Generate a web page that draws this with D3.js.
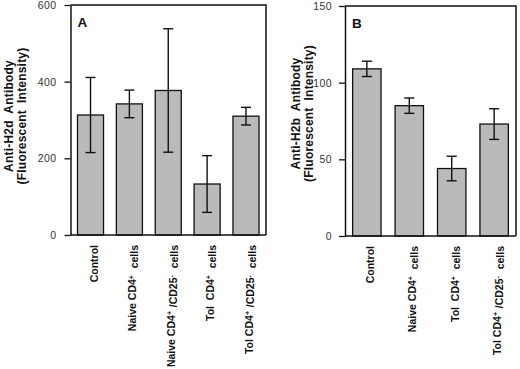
<!DOCTYPE html>
<html>
<head>
<meta charset="utf-8">
<script src="https://cdn.jsdelivr.net/npm/d3@7"></script>
<style>
  body { margin: 0; background: #fff; }
  svg { display: block; }
  text { font-family: 'Liberation Sans', Arial, Helvetica, sans-serif; }
</style>
</head>
<body>
<svg id="chart" width="520" height="369"></svg>
<script>
// panel A data (anti-H2d)
const catsA = ['Control', 'Naive CD4+  cells', 'Naive CD4+ /CD25-  cells', 'Tol  CD4+  cells', 'Tol CD4+ /CD25-  cells']
const meanA = [313, 342, 377, 133, 310]
const errA = [98, 36, 161, 74, 23]
const ticksA = [0, 200, 400, 600]

// panel B data (anti-H2b)
const catsB = ['Control', 'Naive CD4+  cells', 'Tol  CD4+  cells', 'Tol CD4+ /CD25-  cells']
const meanB = [109, 85, 44, 73]
const errB = [5, 5, 8, 10]
const ticksB = [0, 50, 100, 150]

const svg = d3.select('#chart')

// writes a label, turning the + / - after CD4, CD25 into small superscripts
const richText = (sel, str) => {
  const parts = str.split(/(\d[+-])/)
  parts.forEach(p => {
    if (/^\d[+-]$/.test(p)) {
      sel.append('tspan').text(p[0])
      sel.append('tspan').attr('dy', '-0.4em').style('font-size', '7px').text(p[1])
      sel.append('tspan').attr('dy', '0.4em').text('\u200a')
    } else if (p) {
      sel.append('tspan').text(p)
    }
  })
}

const panel = ({ cats, mean, err, ticks, left, right, top, bottom, letter, title, titleX, titleY, pad }) => {
  const x = d3.scaleBand()
    .domain(cats)
    .range([left, right])
    .paddingInner(0.33)
    .paddingOuter(0.18)

  const y = d3.scaleLinear()
    .domain([0, ticks[ticks.length - 1]])
    .range([bottom, top])

  const g = svg.append('g')

  // bars
  g.selectAll('rect.bar')
    .data(cats)
    .enter().append('rect')
    .attr('class', 'bar')
    .attr('x', d => x(d))
    .attr('y', (d, i) => y(mean[i]))
    .attr('width', x.bandwidth())
    .attr('height', (d, i) => y(0) - y(mean[i]))
    .style('fill', '#bababa')
    .style('stroke', '#111')
    .style('stroke-width', 1.3)

  // error bars
  const cx = d => x(d) + x.bandwidth() / 2
  const eb = g.append('g').selectAll('g')
    .data(cats)
    .enter().append('g')
    .style('stroke', '#111')
    .style('stroke-width', 1.4)
  eb.append('line')
    .attr('x1', cx).attr('x2', cx)
    .attr('y1', (d, i) => y(mean[i] - err[i]))
    .attr('y2', (d, i) => y(mean[i] + err[i]))
  eb.append('line')
    .attr('x1', d => cx(d) - 5).attr('x2', d => cx(d) + 5)
    .attr('y1', (d, i) => y(mean[i] + err[i]))
    .attr('y2', (d, i) => y(mean[i] + err[i]))
  eb.append('line')
    .attr('x1', d => cx(d) - 5).attr('x2', d => cx(d) + 5)
    .attr('y1', (d, i) => y(mean[i] - err[i]))
    .attr('y2', (d, i) => y(mean[i] - err[i]))

  // frame
  g.append('path')
    .attr('d', `M${left},${top}H${right}V${bottom}`)
    .style('fill', 'none')
    .style('stroke', '#111')
    .style('stroke-width', 1.5)
  g.append('line')
    .attr('x1', left).attr('x2', right)
    .attr('y1', bottom).attr('y2', bottom)
    .style('stroke', '#111')
    .style('stroke-width', 1.5)

  // y axis
  const yAxis = g.append('g')
    .attr('transform', `translate(${left},0)`)
    .call(d3.axisLeft(y).tickValues(ticks).tickSize(6).tickPadding(pad).tickSizeOuter(0))
  yAxis.select('.domain').style('stroke', '#111').style('stroke-width', 1.5)
  yAxis.selectAll('.tick line').style('stroke', '#111').style('stroke-width', 1.3)
  yAxis.selectAll('.tick text')
    .style('font-size', '10.5px')
    .style('letter-spacing', '0.4px')
    .style('fill', '#333')
    .style('font-family', "'Liberation Sans', Arial, sans-serif")

  // category labels, rotated
  g.selectAll('text.cat')
    .data(cats)
    .enter().append('text')
    .attr('class', 'cat')
    .attr('transform', d => `translate(${cx(d) + 7},${bottom + 10}) rotate(-90)`)
    .attr('text-anchor', 'end')
    .style('font-size', '10.5px')
    .style('font-weight', 'bold')
    .style('fill', '#111')
    .style('white-space', 'pre')
    .each(function (d) { richText(d3.select(this), d) })

  // panel letter
  g.append('text')
    .attr('x', left + 7)
    .attr('y', top + 22)
    .style('font-size', '13.5px')
    .style('font-weight', 'bold')
    .style('fill', '#111')
    .text(letter)

  // y title, two lines
  title.forEach((t, k) => {
    g.append('text')
      .attr('transform', `translate(${titleX[k]},${titleY}) rotate(-90)`)
      .attr('text-anchor', 'middle')
      .style('font-size', '12px')
      .style('letter-spacing', '0.2px')
      .style('font-weight', 'bold')
      .style('fill', '#111')
      .style('white-space', 'pre')
      .text(t)
  })
}

panel({
  cats: catsA, mean: meanA, err: errA, ticks: ticksA,
  left: 70.5, right: 266, top: 5, bottom: 235,
  letter: 'A',
  title: ['Anti-H2d  Antibody', '(Fluorescent  Intensity)'],
  titleX: [12.5, 25.5], titleY: 116, pad: 8
})

panel({
  cats: catsB, mean: meanB, err: errB, ticks: ticksB,
  left: 345, right: 516, top: 6, bottom: 236,
  letter: 'B',
  title: ['Anti-H2b  Antibody', '(Fluorescent  Intensity)'],
  titleX: [300, 313], titleY: 113.5, pad: 7
})
</script>
</body>
</html>
